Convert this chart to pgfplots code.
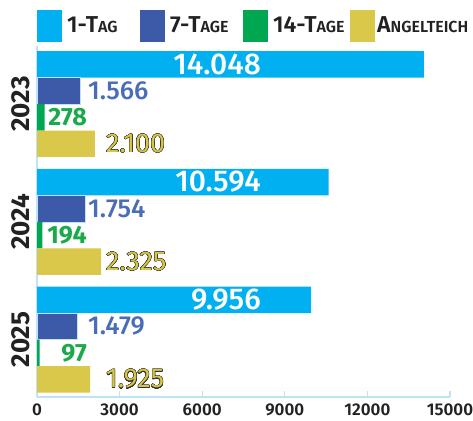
\documentclass[border=0pt]{standalone}
\usepackage{pgfplots}
\pgfplotsset{compat=1.18}
\usepackage{fontspec}
\setmainfont{Fira Sans Medium}[BoldFont={Fira Sans SemiBold}]
\newfontfamily\heavy{Fira Sans Bold}
\newfontfamily\reg{Fira Sans}
\usepackage{contour}
\definecolor{cTag}{HTML}{00B0F0}
\definecolor{cSieben}{HTML}{3C5AA8}
\definecolor{cVierzehn}{HTML}{00A650}
\definecolor{cTeich}{HTML}{DAC84A}
\definecolor{tBlue}{HTML}{4A6DB8}
\definecolor{tGreen}{HTML}{1BAA4B}
\definecolor{tYellow}{HTML}{D8C545}
\definecolor{cAxis}{HTML}{BEE3F6}
\definecolor{cText}{HTML}{222222}
\newcommand{\legfont}{\fontsize{23}{23}\selectfont\bfseries}
\newcommand{\scfont}{\fontsize{16}{16}\selectfont}
\contourlength{0.3pt}
\contournumber{32}

\begin{document}
\begin{tikzpicture}[x=1pt,y=1pt]
\useasboundingbox (0,0) rectangle (473,420);

% legend drawn by hand above the axis
\fill[cTag] (37,378) rectangle (62,410);
\node[anchor=base west, inner sep=0, text=cText, font=\legfont] at (67,387) {1-T{\scfont AG}};
\fill[cSieben] (140,378) rectangle (165,410);
\node[anchor=base west, inner sep=0, text=cText, font=\legfont] at (170,387) {7-T{\scfont AGE}};
\fill[cVierzehn] (243,378) rectangle (268,410);
\node[anchor=base west, inner sep=0, text=cText, font=\legfont] at (273,387) {14-T{\scfont AGE}};
\fill[cTeich] (350,378) rectangle (375,410);
\node[anchor=base west, inner sep=0, text=cText, font=\legfont] at (377,387) {A{\scfont NGELTEICH}};

\begin{axis}[
  at={(37pt,23pt)}, anchor=south west,
  scale only axis, width=413pt, height=351pt,
  xbar, bar width=0.225,
  xmin=0, xmax=15000, ymin=-0.488, ymax=2.4926,
  axis x line=bottom, axis y line=left,
  axis line style={-, cAxis, line width=1.6pt},
  xtick={0,3000,6000,9000,12000,15000},
  xtick align=inside, major tick length=6pt,
  xtick style={cAxis, line width=1.2pt},
  ytick={0,1,2}, yticklabels={2025,2024,2023},
  ytick style={draw=none},
  /pgf/number format/assume math mode=true,
  scaled x ticks=false,
  xticklabel={\pgfmathprintnumber[fixed,1000 sep={}]{\tick}},
  xticklabel style={font=\fontsize{17}{17}\selectfont\bfseries, text=cText, inner sep=0pt, yshift=-6.5pt},
  yticklabel style={font=\fontsize{26}{26}\selectfont\heavy, text=cText, rotate=90, anchor=south, inner xsep=0pt, inner ysep=4pt},
  clip=false,
]
\addplot[fill=cTag, draw=none, bar shift=0.3375] coordinates {(14048,2) (10594,1) (9956,0)};
\addplot[fill=cSieben, draw=cAxis, line width=0.5pt, bar shift=0.1125] coordinates {(1566,2) (1754,1) (1479,0)};
\addplot[fill=cVierzehn, draw=none, bar shift=-0.1125] coordinates {(278,2) (194,1) (97,0)};
\addplot[fill=cTeich, draw=none, bar shift=-0.3375] coordinates {(2100,2) (2325,1) (1925,0)};

% value labels
\begin{scope}[every node/.style={inner sep=0pt}]
\node[anchor=east, text=white, font=\fontsize{30}{30}\selectfont] at (axis cs:8135,2.3375) {14.048};
\node[anchor=east, text=white, font=\fontsize{30}{30}\selectfont] at (axis cs:8135,1.3375) {10.594};
\node[anchor=east, text=white, font=\fontsize{30}{30}\selectfont] at (axis cs:8135,0.3375) {9.956};
\node[anchor=west, text=tBlue, font=\fontsize{26}{26}\selectfont] at (axis cs:1852,2.1125) {1.566};
\node[anchor=west, text=tBlue, font=\fontsize{26}{26}\selectfont] at (axis cs:1852,1.1125) {1.754};
\node[anchor=west, text=tBlue, font=\fontsize{26}{26}\selectfont] at (axis cs:1852,0.1125) {1.479};
\node[anchor=east, text=tGreen, font=\fontsize{25}{25}\selectfont\heavy] at (axis cs:1816,1.8875) {278};
\node[anchor=east, text=tGreen, font=\fontsize{25}{25}\selectfont\heavy] at (axis cs:1816,0.8875) {194};
\node[anchor=east, text=tGreen, font=\fontsize{25}{25}\selectfont\heavy] at (axis cs:1816,-0.1125) {97};
\node[anchor=west, text=tYellow, font=\fontsize{27}{27}\selectfont\reg] at (axis cs:2506,1.6625) {\contour{black!80}{2.100}};
\node[anchor=west, text=tYellow, font=\fontsize{27}{27}\selectfont\reg] at (axis cs:2506,0.6625) {\contour{black!80}{2.325}};
\node[anchor=west, text=tYellow, font=\fontsize{27}{27}\selectfont\reg] at (axis cs:2506,-0.3375) {\contour{black!80}{1.925}};
\end{scope}
\end{axis}
\end{tikzpicture}
\end{document}
